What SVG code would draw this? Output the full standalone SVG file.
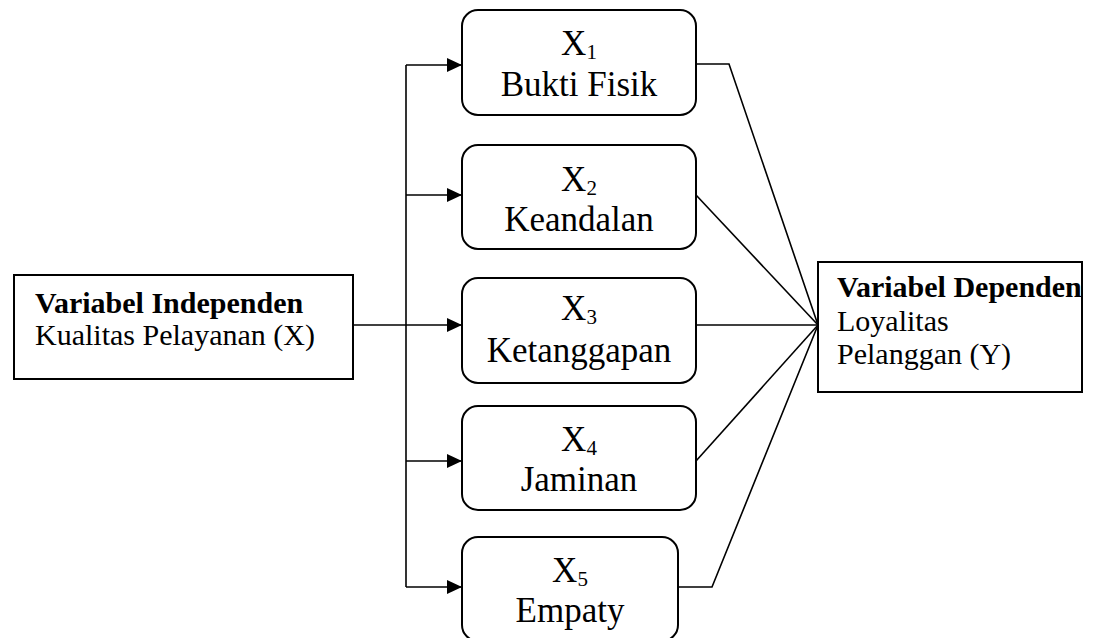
<svg xmlns="http://www.w3.org/2000/svg" width="1097" height="638" viewBox="0 0 1097 638">
<defs>
<style>
.box{fill:#fff;stroke:#000;stroke-width:2}
.ln{fill:none;stroke:#000;stroke-width:1.6}
.t{font-family:"Liberation Serif","Times New Roman",serif;fill:#000}
.b{font-weight:bold}
.side{font-size:30px}
.mid{font-size:35px;text-anchor:middle}
.sub{font-size:21px}
</style>
<marker id="ah" markerWidth="16" markerHeight="14" refX="15" refY="7" orient="auto" markerUnits="userSpaceOnUse">
<path d="M0,0 L15,7 L0,14 Z" fill="#000"/>
</marker>
</defs>
<rect width="1097" height="638" fill="#fff"/>
<g id="connectors">
<path class="ln" d="M353,325 H462" marker-end="url(#ah)"/>
<path class="ln" d="M406,65 V587"/>
<path class="ln" d="M406,65 H462" marker-end="url(#ah)"/>
<path class="ln" d="M406,195 H462" marker-end="url(#ah)"/>
<path class="ln" d="M406,461 H462" marker-end="url(#ah)"/>
<path class="ln" d="M406,587 H462" marker-end="url(#ah)"/>
<path class="ln" d="M696,64 H729 L818,325"/>
<path class="ln" d="M696,195 L818,325"/>
<path class="ln" d="M696,325 H818"/>
<path class="ln" d="M696,461 L818,325"/>
<path class="ln" d="M678,587 H712 L818,325"/>
</g>
<g id="independen">
<rect class="box" x="14" y="275" width="339" height="104"/>
<text class="t side b" x="35" y="313">Variabel Independen</text>
<text class="t side" x="35" y="345">Kualitas Pelayanan (X)</text>
</g>
<g id="x1">
<rect class="box" x="462" y="10" width="234" height="105" rx="16"/>
<text class="t mid" x="579" y="55">X<tspan class="sub" dy="4">1</tspan></text>
<text class="t mid" x="579" y="96">Bukti Fisik</text>
</g>
<g id="x2">
<rect class="box" x="462" y="145" width="234" height="104" rx="16"/>
<text class="t mid" x="579" y="191">X<tspan class="sub" dy="4">2</tspan></text>
<text class="t mid" x="579" y="231">Keandalan</text>
</g>
<g id="x3">
<rect class="box" x="462" y="278" width="234" height="105" rx="16"/>
<text class="t mid" x="579" y="320">X<tspan class="sub" dy="4">3</tspan></text>
<text class="t mid" x="579" y="362">Ketanggapan</text>
</g>
<g id="x4">
<rect class="box" x="462" y="406" width="234" height="104" rx="16"/>
<text class="t mid" x="579" y="451">X<tspan class="sub" dy="4">4</tspan></text>
<text class="t mid" x="579" y="491">Jaminan</text>
</g>
<g id="x5">
<rect class="box" x="462" y="537" width="216" height="104" rx="16"/>
<text class="t mid" x="570" y="582">X<tspan class="sub" dy="4">5</tspan></text>
<text class="t mid" x="570" y="622">Empaty</text>
</g>
<g id="dependen">
<rect class="box" x="818" y="262" width="264" height="130"/>
<text class="t side b" x="837" y="297">Variabel Dependen</text>
<text class="t side" x="837" y="331">Loyalitas</text>
<text class="t side" x="837" y="364">Pelanggan (Y)</text>
</g>
</svg>
